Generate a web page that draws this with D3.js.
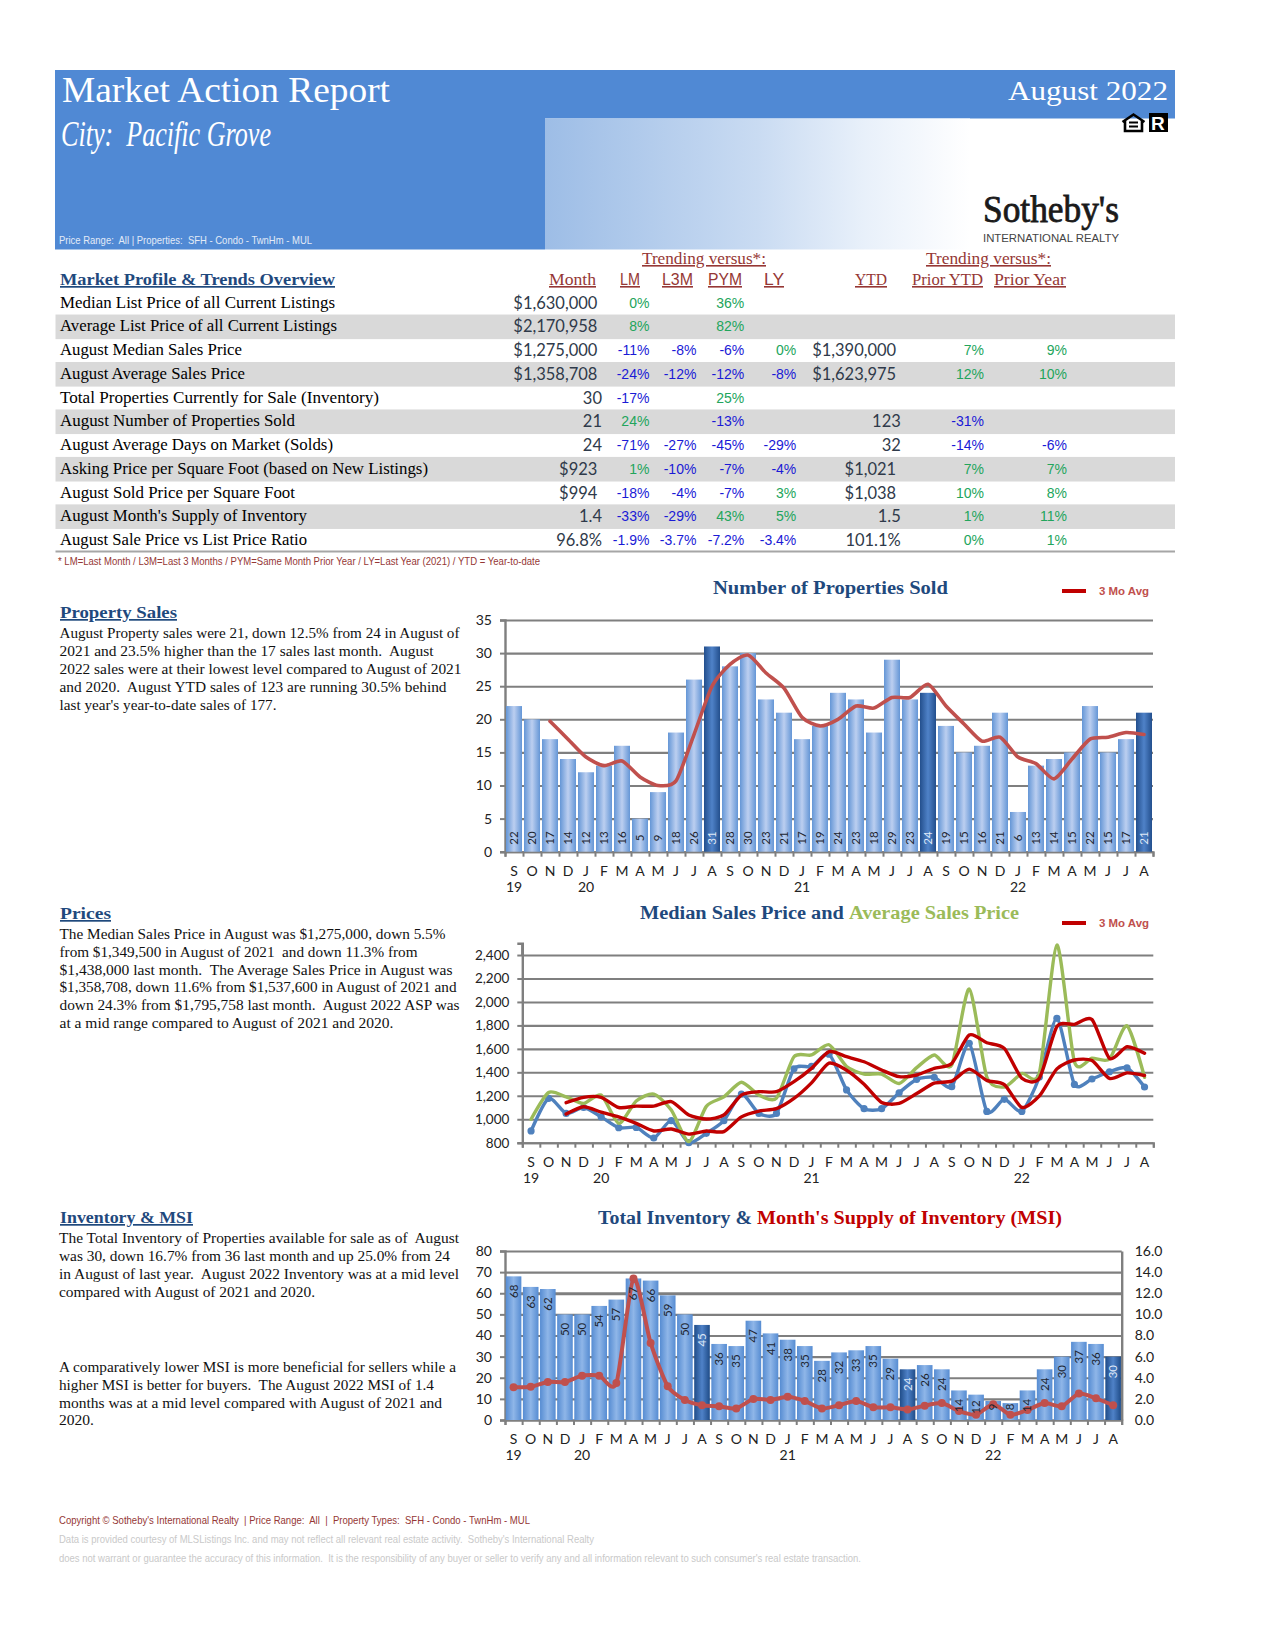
<!DOCTYPE html>
<html><head><meta charset="utf-8">
<script src="https://cdn.jsdelivr.net/npm/d3@7/dist/d3.min.js"></script>
<style>html,body{margin:0;padding:0;background:#fff}svg{display:block}</style>
</head><body><div id="c"></div>
<script>
// ---------- data ----------
const months = ["S","O","N","D","J","F","M","A","M","J","J","A","S","O","N","D","J","F","M","A","M","J","J","A","S","O","N","D","J","F","M","A","M","J","J","A"];
const yearLabels = {0:"19",4:"20",16:"21",28:"22"};
const highlightIdx = [11,23,35];
const sold = [22,20,17,14,12,13,16,5,9,18,26,31,28,30,23,21,17,19,24,23,18,29,23,24,19,15,16,21,6,13,14,15,22,15,17,21];
const sold3 = [null,null,19.7,17,14.3,13,13.7,11.3,10,10.7,17.7,25,28.3,29.7,27,24.7,20.3,19,20,22,21.7,23.3,23.3,25.3,22,19.3,16.7,17.3,14.3,13.3,11,14,17,17.3,18,17.7];
const medianPrice = [900,1178,1050,1100,1020,928,930,840,988,800,880,988,1215,1050,1050,1430,1450,1555,1250,1090,1090,1226,1340,1357,1278,1647,1067,1170,1067,1360,1860,1297,1343,1405,1438,1275];
const avgPrice = [1000,1228,1190,1135,1206,965,1155,1215,1078,810,1110,1190,1315,1206,1180,1533,1548,1635,1450,1385,1385,1305,1440,1548,1462,2110,1360,1275,1390,1395,2485,1490,1520,1513,1796,1358];
const median3 = [null,null,1044,1107,1060,1020,965,900,917,873,900,895,1020,1070,1090,1177,1310,1478,1418,1298,1143,1135,1219,1308,1325,1427,1331,1295,1101,1199,1429,1505,1500,1348,1395,1373];
const avg3 = [null,null,1141,1187,1187,1100,1112,1112,1150,1036,1002,1036,1206,1235,1235,1320,1434,1576,1533,1490,1420,1363,1377,1434,1476,1718,1652,1604,1349,1349,1789,1809,1851,1519,1618,1562];
const inventory = [68,63,62,50,50,54,57,67,66,59,50,45,36,35,47,41,38,35,28,32,33,35,29,24,26,24,14,12,9,8,14,24,30,37,36,30];
const msi = [3.1,3.15,3.6,3.6,4.2,4.2,3.5,13.4,7.3,3.2,1.9,1.4,1.3,1.1,2.0,1.9,2.2,1.8,1.1,1.4,1.8,1.2,1.2,1.0,1.36,1.6,0.85,0.5,1.5,0.5,0.95,1.6,1.3,2.5,2.05,1.4];

const rowLabels = ["Median List Price of all Current Listings","Average List Price of all Current Listings","August Median Sales Price","August Average Sales Price","Total Properties Currently for Sale (Inventory)","August Number of Properties Sold","August Average Days on Market (Solds)","Asking Price per Square Foot (based on New Listings)","August Sold Price per Square Foot","August Month's Supply of Inventory","August Sale Price vs List Price Ratio"];
const colMonth = ["$1,630,000","$2,170,958","$1,275,000","$1,358,708","30","21","24","$923","$994","1.4","96.8%"];
const colLM = ["0%","8%","-11%","-24%","-17%","24%","-71%","1%","-18%","-33%","-1.9%"];
const colL3M = ["","","-8%","-12%","","","-27%","-10%","-4%","-29%","-3.7%"];
const colPYM = ["36%","82%","-6%","-12%","25%","-13%","-45%","-7%","-7%","43%","-7.2%"];
const colLY = ["","","0%","-8%","","","-29%","-4%","3%","5%","-3.4%"];
const colYTD = ["","","$1,390,000","$1,623,975","","123","32","$1,021","$1,038","1.5","101.1%"];
const colPriorYTD = ["","","7%","12%","","-31%","-14%","7%","10%","1%","0%"];
const colPriorYear = ["","","9%","10%","","","-6%","7%","8%","11%","1%"];

const salesText = ["August Property sales were 21, down 12.5% from 24 in August of","2021 and 23.5% higher than the 17 sales last month.  August","2022 sales were at their lowest level compared to August of 2021","and 2020.  August YTD sales of 123 are running 30.5% behind","last year's year-to-date sales of 177."];
const pricesText = ["The Median Sales Price in August was $1,275,000, down 5.5%","from $1,349,500 in August of 2021  and down 11.3% from","$1,438,000 last month.  The Average Sales Price in August was","$1,358,708, down 11.6% from $1,537,600 in August of 2021 and","down 24.3% from $1,795,758 last month.  August 2022 ASP was","at a mid range compared to August of 2021 and 2020."];
const inventoryText = ["The Total Inventory of Properties available for sale as of  August","was 30, down 16.7% from 36 last month and up 25.0% from 24","in August of last year.  August 2022 Inventory was at a mid level","compared with August of 2021 and 2020."];
const msiText = ["A comparatively lower MSI is more beneficial for sellers while a","higher MSI is better for buyers.  The August 2022 MSI of 1.4","months was at a mid level compared with August of 2021 and","2020."];

// ---------- helpers ----------
const SERIF="'Liberation Serif',serif", SANS="'Liberation Sans',sans-serif", CAL="Lato,sans-serif";
const NAVY="#1f497d", BROWN="#953735", GRID="#7f7f7f";
const svg=d3.select("#c").append("svg").attr("width",1275).attr("height",1650);
const defs=svg.append("defs");
function grad(id,stops,dir){const g=defs.append("linearGradient").attr("id",id);
  if(dir==="h"){g.attr("x1",0).attr("x2",1).attr("y1",0).attr("y2",0);}
  stops.forEach(s=>g.append("stop").attr("offset",s[0]).attr("stop-color",s[1]));}
grad("hdr",[[0,"#9dbde6"],[.5,"#c9dbf2"],[.75,"#e8f0fa"],[1,"#ffffff"]],"h");
grad("bar1",[[0,"#6496d6"],[.5,"#bccff0"],[1,"#6496d6"]],"h");
grad("bar1d",[[0,"#234f8d"],[.5,"#4f82c8"],[1,"#234f8d"]],"h");
grad("bar3",[[0,"#568cd2"],[.5,"#8fb6e8"],[1,"#568cd2"]],"h");
grad("bar3d",[[0,"#1f4c88"],[.5,"#4f82c8"],[1,"#1f4c88"]],"h");
function txt(x,y,s,o={}){const t=svg.append("text").attr("x",x).attr("y",y).text(s)
  .attr("font-family",o.font||SERIF).attr("font-size",o.size||14).attr("fill",o.fill||"#000")
  .attr("text-anchor",o.anchor||"start").attr("xml:space","preserve").style("white-space","pre");
  if(o.bold)t.attr("font-weight","bold"); if(o.italic)t.attr("font-style","italic");
  if(o.w)t.attr("textLength",o.w).attr("lengthAdjust","spacingAndGlyphs");
  if(o.u)t.attr("text-decoration","underline");
  return t;}

// ---------- header ----------
svg.append("rect").attr("x",55).attr("y",70).attr("width",1120).attr("height",48.5).attr("fill","#5089d4");
svg.append("rect").attr("x",55).attr("y",118).attr("width",490).attr("height",131.5).attr("fill","#5089d4");
svg.append("rect").attr("x",545).attr("y",118.5).attr("width",425).attr("height",131).attr("fill","url(#hdr)");
txt(62,102,"Market Action Report",{size:36,fill:"#fff",w:328});
txt(61,146,"City:  Pacific Grove",{size:36,fill:"#fff",italic:true,w:210});
txt(59,244,"Price Range:  All | Properties:  SFH - Condo - TwnHm - MUL",{font:SANS,size:11,fill:"#e3ebf7",w:253});
txt(1008,100,"August 2022",{size:28,fill:"#fff",w:160});
// equal housing + realtor marks
svg.append("path").attr("d","M1122.5 122 L1133.5 114.5 L1144.5 122 M1125 121 V131 H1142 V121").attr("fill","none").attr("stroke","#000").attr("stroke-width",2.6);
svg.append("path").attr("d","M1129 122.5 H1138 M1129 126.5 H1138").attr("stroke","#000").attr("stroke-width",2);
svg.append("rect").attr("x",1149).attr("y",113).attr("width",19).attr("height",19).attr("fill","#000");
txt(1151,130,"R",{font:SANS,bold:true,size:19,fill:"#fff"});
txt(983,222,"Sotheby's",{size:37,fill:"#1a1a1a",w:136}).attr("stroke","#1a1a1a").attr("stroke-width",.8);
txt(983,242,"INTERNATIONAL REALTY",{font:SANS,size:11.5,fill:"#444",w:136});

// ---------- table ----------
const rowY=d3.scaleLinear().domain([0,10]).range([302.7,540]);
const greyRows=[1,3,5,7,9];
const rowLabelWidths=[275,277,182,185,319,235,273,368,235,247,247];
svg.selectAll("rect.band").data(greyRows).join("rect").attr("class","band").attr("x",55.5).attr("width",1119.5)
  .attr("y",d=>rowY(d)-11.9).attr("height",24.6).attr("fill","#d9d9d9");
svg.append("line").attr("x1",55.5).attr("x2",1175).attr("y1",551.5).attr("y2",551.5).attr("stroke","#a6a6a6").attr("stroke-width",2);
txt(642,264,"Trending versus*:",{size:16,fill:BROWN,w:124,u:true});
txt(926,264,"Trending versus*:",{size:16,fill:BROWN,w:125,u:true});
txt(60,285,"Market Profile & Trends Overview",{size:17,bold:true,fill:NAVY,w:275,u:true});
[["Month",549,47,SERIF],["LM",620,20,SANS],["L3M",662,31,SANS],["PYM",708,34,SANS],["LY",764,20,SANS],["YTD",855,32,SERIF],["Prior YTD",912,71,SERIF],["Prior Year",994,72,SERIF]]
 .forEach(h=>txt(h[1],285,h[0],{size:16,fill:BROWN,w:h[2],font:h[3],u:true}));
rowLabels.forEach((s,i)=>txt(60,rowY(i)+5,s,{size:16.8,w:rowLabelWidths[i]}));
function numCol(arr,x){arr.forEach((s,i)=>{if(!s)return;txt(s[0]==="$"?x-4.6:x,rowY(i)+6,s,{font:CAL,size:16.5,fill:"#2f3a4a",anchor:"end"});});}
numCol(colMonth,602); numCol(colYTD,900.8);
function pctCol(arr,x){arr.forEach((s,i)=>{if(!s)return;txt(x,rowY(i)+5,s,{font:SANS,size:14,fill:s[0]==="-"?"#1a1ad6":"#22a55c",anchor:"end"});});}
pctCol(colLM,649.4);pctCol(colL3M,696.4);pctCol(colPYM,744.3);pctCol(colLY,796.3);pctCol(colPriorYTD,984);pctCol(colPriorYear,1067);
txt(58,565,"* LM=Last Month / L3M=Last 3 Months / PYM=Same Month Prior Year / LY=Last Year (2021) / YTD = Year-to-date",{font:SANS,size:10.5,fill:BROWN,w:482});

// ---------- side text ----------
function para(lines,x,y0,dy,widths){lines.forEach((s,i)=>txt(x,y0+i*dy,s,{size:15,w:widths[i],fill:"#111"}));}
txt(60,618,"Property Sales",{size:17,bold:true,fill:NAVY,w:117,u:true});
para(salesText,59.5,638,17.9,[400,374,402,387,217]);
txt(60,919,"Prices",{size:17,bold:true,fill:NAVY,w:51,u:true});
para(pricesText,59.5,939,17.8,[386,358,393,397,400,334]);
txt(60,1223,"Inventory & MSI",{size:17,bold:true,fill:NAVY,w:133,u:true});
para(inventoryText,59,1243,18,[400,391,400,256]);
para(msiText,59,1372,17.8,[397,375,383,35]);

// ---------- chart scaffolding ----------
function scaffold(o){
  const x=d3.scaleBand().domain(d3.range(36)).range([o.left,o.right]);
  const y=d3.scaleLinear().domain(o.domain).range([o.bottom,o.top]);
  const g=svg.append("g");
  const grid=g.append("g").attr("transform",`translate(${o.left},0)`)
    .call(d3.axisRight(y).tickValues(o.ticks).tickSize(o.right-o.left).tickFormat(""));
  grid.select(".domain").remove();
  grid.selectAll("line").attr("stroke",GRID).attr("stroke-width",d=>d===o.thick?3:2.1);
  const edges=d3.scalePoint().domain(d3.range(37)).range([o.left,o.right]);
  const tk=g.append("g").attr("transform",`translate(0,${o.bottom})`)
    .call(d3.axisBottom(edges).tickSize(5).tickFormat(""));
  tk.selectAll("line").attr("stroke",GRID).attr("stroke-width",2);
  tk.select(".domain").attr("stroke",GRID).attr("stroke-width",2.1);
  const ya=g.append("g").attr("transform",`translate(${o.left},0)`)
    .call(d3.axisLeft(y).tickValues(o.ticks).tickSize(5).tickPadding(8).tickFormat(o.fmt||d3.format("d")));
  ya.select(".domain").attr("stroke",GRID).attr("stroke-width",2.4);
  ya.selectAll("line").attr("stroke",GRID).attr("stroke-width",2);
  ya.selectAll("text").attr("font-family",CAL).attr("font-size",o.tickSize||14).attr("fill","#222");
  const xa=g.append("g").attr("transform",`translate(0,${o.bottom})`).call(d3.axisBottom(x).tickSize(0).tickPadding(14).tickFormat(i=>months[i]));
  xa.select(".domain").remove();
  xa.selectAll("text").attr("font-family",CAL).attr("font-size",14).attr("fill","#222");
  const yl=g.append("g").attr("transform",`translate(0,${o.bottom+17.5})`).call(d3.axisBottom(x).tickValues(Object.keys(yearLabels).map(Number)).tickSize(0).tickPadding(13).tickFormat(i=>yearLabels[i]));
  yl.select(".domain").remove();
  yl.selectAll("text").attr("font-family",CAL).attr("font-size",14).attr("fill","#222");
  return {x,y,g};
}
const smooth=d3.curveCardinal.tension(0.3);
function drawLine(c,vals,y,color,w){
  const l=d3.line().defined(d=>d!=null).x((d,i)=>c.x(i)+c.x.bandwidth()/2).y(d=>y(d)).curve(smooth);
  return c.g.append("path").datum(vals).attr("d",l).attr("fill","none").attr("stroke",color).attr("stroke-width",w).attr("stroke-linejoin","round").attr("stroke-linecap","round");
}
function dots(c,vals,y,color,r){
  c.g.append("g").selectAll("circle").data(vals).join("circle").attr("cx",(d,i)=>c.x(i)+c.x.bandwidth()/2).attr("cy",d=>y(d)).attr("r",r).attr("fill",color);
}
function legend(yp){
  svg.append("line").attr("x1",1062).attr("x2",1086).attr("y1",yp).attr("y2",yp).attr("stroke","#c00000").attr("stroke-width",4);
  txt(1099,yp+4,"3 Mo Avg",{font:SANS,bold:true,size:11,fill:"#c0504d",w:50});
}
function bars(c,vals,fill,fillD,w){
  const off=(c.x.bandwidth()-w)/2;
  c.g.append("g").selectAll("rect").data(vals).join("rect")
    .attr("x",(d,i)=>c.x(i)+off).attr("width",w).attr("y",d=>c.y(d)).attr("height",d=>c.y(0)-c.y(d))
    .attr("fill",(d,i)=>highlightIdx.includes(i)?`url(#${fillD})`:`url(#${fill})`);
}
function barLabels(c,vals,posY){
  c.g.append("g").selectAll("text").data(vals).join("text").text(d=>d)
    .attr("transform",(d,i)=>`translate(${c.x(i)+c.x.bandwidth()/2+4},${posY(d)}) rotate(-90)`)
    .attr("text-anchor","middle").attr("font-family",CAL).attr("font-size",11.5)
    .attr("fill",(d,i)=>highlightIdx.includes(i)?"#dfe9f8":"#1c2530");
}

// ---------- chart 1 ----------
txt(713,593.7,"Number of Properties Sold",{size:18.5,bold:true,fill:NAVY,w:235});
legend(591);
const c1=scaffold({left:505,right:1153,top:620,bottom:851.7,domain:[0,35],ticks:d3.range(0,36,5)});
bars(c1,sold,"bar1","bar1d",16);
barLabels(c1,sold,()=>838);
drawLine(c1,sold3,c1.y,"#c0504d",3.6);

// ---------- chart 2 ----------
txt(640,918.7,"Median Sales Price and ",{size:18.5,bold:true,fill:NAVY,w:209});
txt(849,918.7,"Average Sales Price",{size:18.5,bold:true,fill:"#9bbb59",w:170});
legend(923);
const c2=scaffold({left:522.3,right:1153.3,top:943.3,bottom:1142.7,domain:[800,2500],ticks:d3.range(800,2401,200),fmt:d3.format(","),tickSize:13.5});
c2.g.append("line").attr("x1",522.3).attr("x2",522.3).attr("y1",943.3).attr("y2",955).attr("stroke",GRID).attr("stroke-width",2.4);
drawLine(c2,medianPrice,c2.y,"#4f81bd",3.4);
dots(c2,medianPrice,c2.y,"#4f81bd",3.6);
drawLine(c2,avgPrice,c2.y,"#9bbb59",3.4);
drawLine(c2,median3,c2.y,"#c00000",3.4);
drawLine(c2,avg3,c2.y,"#c00000",3.4);

// ---------- chart 3 ----------
txt(598,1223.7,"Total Inventory & ",{size:18.5,bold:true,fill:NAVY,w:159});
txt(757,1223.7,"Month's Supply of Inventory (MSI)",{size:18.5,bold:true,fill:"#c00000",w:305});
const c3=scaffold({left:505,right:1121.7,top:1251,bottom:1420,domain:[0,80],ticks:d3.range(0,81,10),thick:60});
bars(c3,inventory,"bar3","bar3d",15.6);
const yR=d3.scaleLinear().domain([0,16]).range([1420,1251]);
const ar=c3.g.append("g").attr("transform","translate(1121.7,0)").call(d3.axisRight(yR).tickValues(d3.range(0,17,2)).tickSize(0).tickPadding(13).tickFormat(d3.format(".1f")));
ar.select(".domain").attr("stroke",GRID).attr("stroke-width",2.4);
ar.selectAll("text").attr("font-family",CAL).attr("font-size",14).attr("fill","#222");
drawLine(c3,msi,yR,"#c0504d",4);
dots(c3,msi,yR,"#c0504d",4);
barLabels(c3,inventory,d=>Math.min(c3.y(d)+15,1407));

// ---------- footer ----------
txt(59,1524,"Copyright © Sotheby's International Realty  | Price Range:  All  |  Property Types:  SFH - Condo - TwnHm - MUL",{font:SANS,size:11,fill:BROWN,w:471});
txt(59,1543,"Data is provided courtesy of MLSListings Inc. and may not reflect all relevant real estate activity.  Sotheby's International Realty",{font:SANS,size:10.5,fill:"#c9c9c9",w:535});
txt(59,1562,"does not warrant or guarantee the accuracy of this information.  It is the responsibility of any buyer or seller to verify any and all information relevant to such consumer's real estate transaction.",{font:SANS,size:10.5,fill:"#c9c9c9",w:802});
</script></body></html>
